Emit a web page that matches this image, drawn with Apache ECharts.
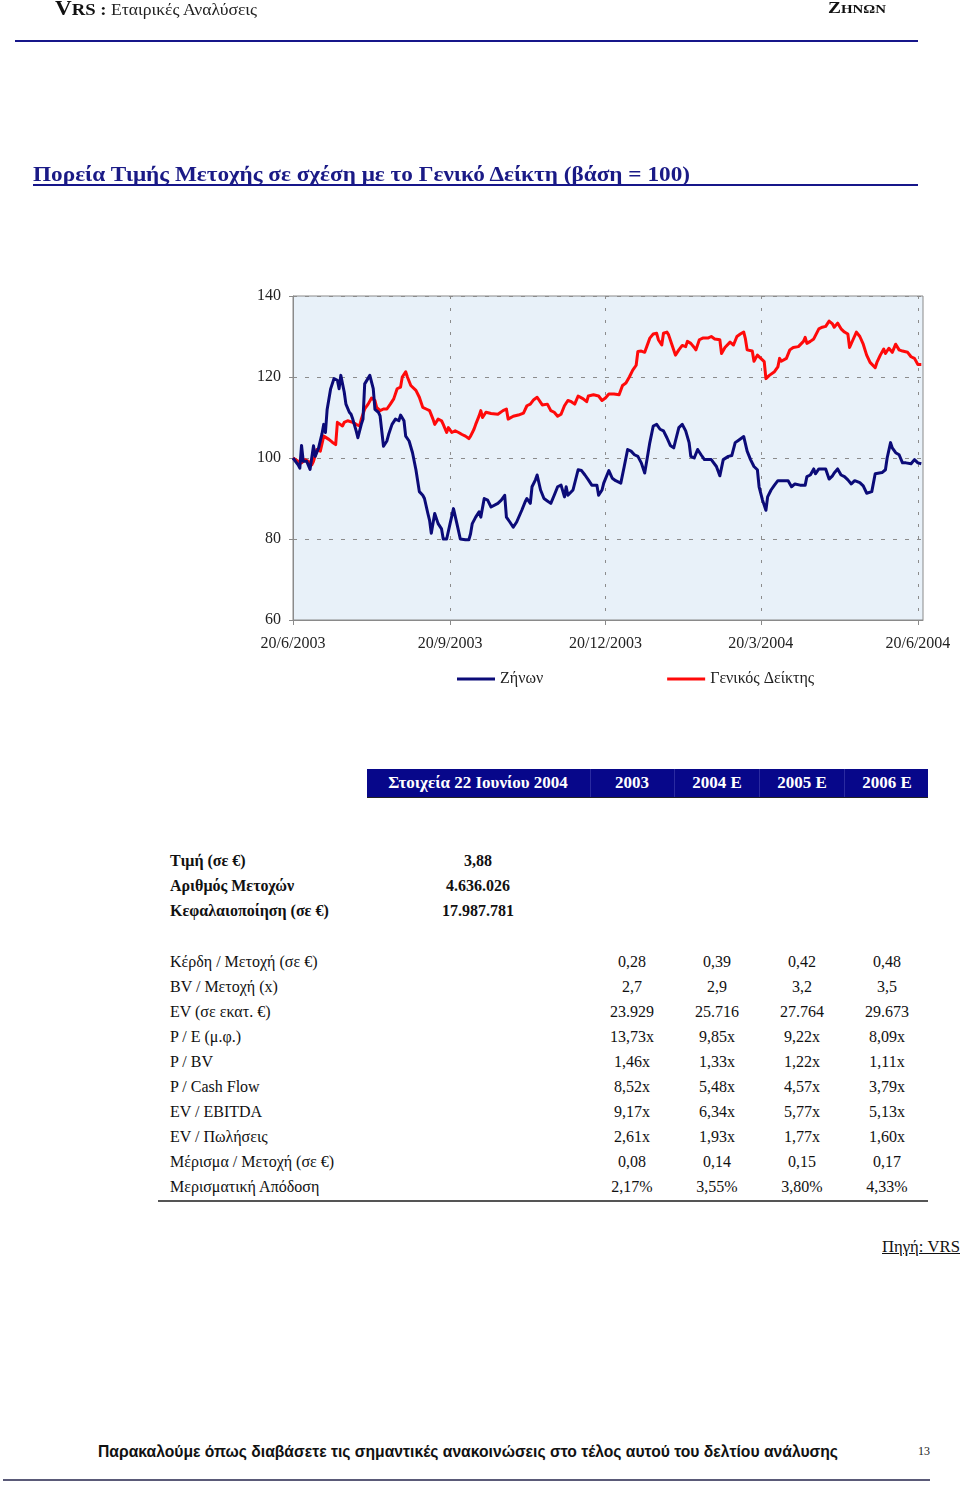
<!DOCTYPE html>
<html><head><meta charset="utf-8">
<script src="https://cdn.jsdelivr.net/npm/echarts@6/dist/echarts.min.js"></script>
<style>
html,body{margin:0;padding:0}
body{width:960px;height:1489px;position:relative;background:#fff;font-family:'Liberation Serif','Times New Roman',serif;color:#000;overflow:hidden}
.a{position:absolute;white-space:nowrap}
#chart{position:absolute;left:0;top:0;width:960px;height:720px}
.fit{transform-origin:0 50%;display:inline-block}
</style></head><body>
<div id="chart"></div>

<div class="a" style="left:55px;top:-5px;height:26px;line-height:26px;">
  <span class="fit" id="hdrL"><b style="font-size:21px;color:#111">V</b><b style="font-size:17px;color:#111">RS :</b> <span style="font-size:16px;color:#222">Εταιρικές Αναλύσεις</span></span>
</div>
<div class="a" style="left:828px;top:-3px;height:22px;line-height:22px;font-weight:bold;color:#111">
  <span class="fit" id="hdrR"><span style="font-size:17px">Ζ</span><span style="font-size:13px">ΗΝΩΝ</span></span>
</div>
<div class="a" style="left:15px;top:40px;width:903px;height:0;border-top:2px solid #16168a"></div>

<div class="a" style="left:33px;top:162px;width:885px;height:22px;border-bottom:2px solid #16168a;">
  <span class="fit" id="title" style="font-size:22px;font-weight:bold;color:#1a1a86;line-height:24px">Πορεία Τιμής Μετοχής σε σχέση με το Γενικό Δείκτη (βάση = 100)</span>
</div>

<div id="tbl"></div>

<div class="a" style="left:882px;top:1237px;font-size:16px;line-height:20px;color:#111"><span class="fit" id="src" style="text-decoration:underline">Πηγή: VRS</span></div>

<div class="a" style="left:98px;top:1441px;height:22px;line-height:22px;font-family:'Liberation Sans',Arial,sans-serif;font-weight:bold;font-size:17px;color:#111">
  <span class="fit" id="foot">Παρακαλούμε όπως διαβάσετε τις σημαντικές ανακοινώσεις στο τέλος αυτού του δελτίου ανάλυσης</span>
</div>
<div class="a" style="left:918px;top:1444px;font-size:12px;line-height:14px;color:#222">13</div>
<div class="a" style="left:3px;top:1479px;width:927px;height:0;border-top:2px solid #5a5a78"></div>

<script>
// ---------------- DATA ----------------
// x values: days since 20/6/2003
const xTickDays = [0, 92, 183, 274, 366];
const xTickLabels = ['20/6/2003', '20/9/2003', '20/12/2003', '20/3/2004', '20/6/2004'];
const yTicks = [60, 80, 100, 120, 140];

const seriesNames = ['Ζήνων', 'Γενικός Δείκτης'];

const zinonDays = [0,3,4,5,6,8,10,11,12,13,15,17,18,19,20,22,24,26,27,28,30,31,33,34,35,37,38,40,41,42,45,47,48,50,51,53,55,56,58,60,62,63,65,66,68,70,72,74,76,77,79,80,81,83,85,87,88,90,92,94,96,98,101,103,104,105,107,109,110,112,114,116,120,122,124,125,127,129,131,132,134,136,137,139,140,142,143,145,147,149,151,153,155,157,159,160,161,164,167,169,171,173,175,178,179,181,182,185,187,189,192,194,196,198,200,202,204,206,208,209,211,213,215,217,219,221,223,224,226,228,230,232,233,235,237,239,241,243,245,248,250,252,255,257,259,261,264,266,268,270,272,273,275,277,278,280,282,284,287,290,292,294,297,300,301,303,305,306,308,310,312,314,316,317,319,321,323,325,327,329,332,334,336,339,341,342,345,347,348,350,351,353,355,357,359,362,364,366,368];
const zinonValues = [100,98.3,97.5,103.1,99.2,99.2,97.2,97.2,103,100.4,102.5,106,108.3,106.3,112,117,119.6,119.2,117.1,120.4,116.3,113.3,111.3,110.8,109.6,106.7,105,108.3,109.6,118.3,120.4,117.1,112,111.3,110.4,102.9,104.2,105.8,108.3,109.6,109.2,110.6,109.2,105.4,104.2,101.3,97.1,91.7,90.8,90,86.3,84.6,81.4,86.3,83.8,82.5,80,80,83.8,87.5,83.8,80,79.8,79.8,81.3,83.8,85.4,86.7,85.4,90,89.6,87.9,88.8,89.6,90.8,85.4,84.2,82.9,84.2,83.8,87.1,89.2,90,88.8,92.9,94.6,95.8,92.1,90,89.4,88.8,90.8,92.9,93.3,90.4,92.9,90.8,92.1,97.1,96.9,95.8,94.6,93.3,93.3,90.8,92.1,93.8,96.9,95,94.4,93.8,97.9,102.1,101.7,100.8,100.4,98.8,96.3,101.3,103.8,107.9,108.3,107.1,106.7,105,103.1,102.5,104.2,107.5,108.3,106.7,103.8,100.4,100,102.1,100.8,99.6,99.6,99.6,97.9,95.6,99.6,100.4,100.6,103.8,104.4,105.3,101.7,99.6,97.9,97.1,92.9,89.6,87.1,90.4,92.1,93.3,94.4,94.4,94.4,92.9,93.6,93.3,93.3,95.4,95.8,97.3,96.1,97.3,97.3,97.3,94.8,95.6,96.3,97.3,95.8,95.4,94.6,93.6,94.4,93.9,93.1,91.3,91.7,96.1,96.3,96.4,97.1,100,103.8,102.5,101.3,100.8,98.8,98.8,98.6,99.6,98.8,98.6];

const genikosDays = [0,3,5,7,9,11,12,14,16,17,18,21,23,25,26,27,29,30,32,35,37,39,40,42,44,46,48,49,51,53,55,57,59,61,63,64,66,67,69,70,72,74,76,78,80,82,83,85,87,88,90,91,93,95,97,99,101,103,104,106,107,109,110,111,113,116,120,123,125,126,129,132,135,137,139,141,143,146,149,151,153,155,157,159,161,163,165,167,170,172,173,176,179,181,183,185,188,191,193,195,197,199,201,202,204,206,209,211,213,214,216,217,219,220,222,223,224,226,228,230,231,233,235,236,238,240,243,245,247,250,251,253,256,258,260,262,264,265,266,269,270,272,274,276,277,279,282,284,285,286,289,291,293,296,299,300,301,303,305,308,310,312,314,316,317,319,321,323,325,326,328,330,332,334,335,336,338,341,342,344,346,347,349,351,353,355,357,360,362,364,366,368];
const genikosValues = [100,99.2,98.8,99.6,99.2,98.3,99.2,102.1,101.7,102.1,105.4,104.6,103.9,103.3,108.8,109.2,107.9,108.8,109.2,108.8,108.3,107.9,109.6,112.1,113.3,114.8,114.2,112.5,111.7,112.1,112.1,113.3,114.6,117.1,117.5,120,121.3,120,117.9,118.3,116.7,115,112.5,112.1,111.7,109.6,108.3,109.6,109.2,108.3,106.3,107.5,106.3,106.7,106.3,105.8,105.4,104.8,105.4,107.1,108.3,110.4,111.7,110,111.3,111,110.8,111.7,112.1,109.6,110.3,110.6,111.1,112.9,113.3,114.4,115,113.1,113.3,111.7,111.3,110.3,110.8,112.9,114.2,113.9,113.3,115.3,114.6,113.9,115.3,115.6,115.3,114.2,114.8,115.8,115.8,115.6,117.9,118.5,120,121.7,122.9,126.3,126.4,126.1,129.6,130.6,130.8,129.2,127.9,130.8,131.1,130.4,127.9,127.8,125.4,126.7,127.8,127.5,128.8,128.3,127.3,126.7,129.2,129.6,129.6,130,129.4,129.2,125.8,127.3,128.6,127.9,130,130.6,131.1,129.4,126.7,126.4,123.9,125.4,124.6,123.8,119.6,120.4,121.3,122.5,124.6,123.9,124.6,126.7,127.3,127.5,128.8,129.8,128.3,128.8,129.4,131.9,132.3,132.5,133.8,133.1,132.3,133.3,131.9,131.1,130.6,127.3,129.2,131.1,130,128.1,127.8,125.4,123.6,122.3,123.6,125.4,126.9,125.8,127.1,126.1,128.1,126.7,126.4,126.1,125,124.6,123.1,123.1];

// Table data
const tableHeader = ['Στοιχεία 22 Ιουνίου 2004', '2003', '2004 E', '2005 E', '2006 E'];
const basicLabels = ['Τιμή (σε €)', 'Αριθμός Μετοχών', 'Κεφαλαιοποίηση (σε €)'];
const basicValues = ['3,88', '4.636.026', '17.987.781'];
const ratioLabels = ['Κέρδη / Μετοχή (σε €)', 'BV / Μετοχή (x)', 'EV (σε εκατ. €)', 'P / E (μ.φ.)', 'P / BV', 'P / Cash Flow', 'EV / EBITDA', 'EV / Πωλήσεις', 'Μέρισμα / Μετοχή (σε €)', 'Μερισματική Απόδοση'];
const values2003  = ['0,28', '2,7', '23.929', '13,73x', '1,46x', '8,52x', '9,17x', '2,61x', '0,08', '2,17%'];
const values2004E = ['0,39', '2,9', '25.716', '9,85x', '1,33x', '5,48x', '6,34x', '1,93x', '0,14', '3,55%'];
const values2005E = ['0,42', '3,2', '27.764', '9,22x', '1,22x', '4,57x', '5,77x', '1,77x', '0,15', '3,80%'];
const values2006E = ['0,48', '3,5', '29.673', '8,09x', '1,11x', '3,79x', '5,13x', '1,60x', '0,17', '4,33%'];

// ---------------- CHART ----------------
const FONT = "'Liberation Serif','Times New Roman',serif";
const chart = echarts.init(document.getElementById('chart'), null, {renderer: 'canvas'});
chart.setOption({
  animation: false,
  textStyle: {fontFamily: FONT},
  grid: {left: 293, top: 296, width: 630, height: 324, show: true, backgroundColor: '#e8f1f9', borderColor: '#8a8a8a', borderWidth: 1, containLabel: false},
  legend: {
    left: 457, top: 670, padding: 0, itemGap: 124, itemWidth: 38, itemHeight: 3, icon: 'rect',
    textStyle: {fontFamily: FONT, fontSize: 16, color: '#222', lineHeight: 18},
    data: seriesNames
  },
  xAxis: {
    type: 'value', min: 0, max: 369,
    axisLine: {show: true, lineStyle: {color: '#8a8a8a', width: 1}},
    axisTick: {show: true, customValues: xTickDays, length: 5, lineStyle: {color: '#8a8a8a'}},
    axisLabel: {customValues: xTickDays, margin: 16, fontSize: 16, color: '#222', fontFamily: FONT,
      formatter: v => xTickLabels[xTickDays.indexOf(Math.round(v))] || ''},
    splitLine: {show: true, lineStyle: {color: '#8c8c8c', type: [3, 9], width: 1}}
  },
  yAxis: {
    type: 'value', min: 60, max: 140, interval: 20,
    axisLine: {show: true, lineStyle: {color: '#8a8a8a', width: 1}},
    axisTick: {show: true, length: 4, lineStyle: {color: '#8a8a8a'}},
    axisLabel: {margin: 12, fontSize: 16, color: '#222', fontFamily: FONT},
    splitLine: {show: true, lineStyle: {color: '#8c8c8c', type: [4, 8], width: 1}}
  },
  series: [
    {name: seriesNames[0], type: 'line', showSymbol: false, symbol: 'none', z: 3,
      color: '#0b0b78', lineStyle: {width: 3, color: '#0b0b78', join: 'round'},
      data: zinonDays.map((d, i) => [d, zinonValues[i]])},
    {name: seriesNames[1], type: 'line', showSymbol: false, symbol: 'none', z: 2,
      color: '#ff0a0a', lineStyle: {width: 3, color: '#ff0a0a', join: 'round'},
      data: genikosDays.map((d, i) => [d, genikosValues[i]])}
  ]
});

// ---------------- TABLE ----------------
const tbl = document.getElementById('tbl');
function addText(txt, x, yc, opts) {
  const d = document.createElement('div');
  d.className = 'a';
  d.textContent = txt;
  d.style.top = (yc - 10) + 'px';
  d.style.height = '20px';
  d.style.lineHeight = '20px';
  d.style.fontSize = (opts.size || 16) + 'px';
  if (opts.bold) d.style.fontWeight = 'bold';
  d.style.color = opts.color || '#111';
  if (opts.center) { d.style.left = (x - 100) + 'px'; d.style.width = '200px'; d.style.textAlign = 'center'; }
  else d.style.left = x + 'px';
  tbl.appendChild(d);
}
// header band
const band = document.createElement('div');
band.className = 'a';
band.style.cssText = 'left:367px;top:769px;width:561px;height:28px;background:#07078a;box-shadow:0 1px 0 #222;';
tbl.appendChild(band);
[590, 674, 759, 844].forEach(x => {
  const s = document.createElement('div'); s.className = 'a';
  s.style.cssText = 'left:' + x + 'px;top:769px;width:1px;height:28px;background:#2a2aa0;';
  tbl.appendChild(s);
});
const hdrX = [478, 632, 717, 802, 887];
tableHeader.forEach((t, i) => addText(t, hdrX[i], 783, {bold: true, color: '#fff', center: true, size: 17}));
basicLabels.forEach((t, i) => addText(t, 170, 861 + 25 * i, {bold: true, size: 16}));
basicValues.forEach((t, i) => addText(t, 478, 861 + 25 * i, {bold: true, center: true, size: 16}));
const cols = [values2003, values2004E, values2005E, values2006E];
ratioLabels.forEach((t, i) => {
  addText(t, 170, 962 + 25 * i, {size: 16});
  cols.forEach((c, j) => addText(c[i], hdrX[j + 1], 962 + 25 * i, {center: true, size: 16}));
});
const bl = document.createElement('div'); bl.className = 'a';
bl.style.cssText = 'left:158px;top:1200px;width:770px;height:0;border-top:2px solid #555;';
tbl.appendChild(bl);

// fit text widths to the page layout
function fit(id, w) {
  const el = document.getElementById(id);
  const cw = el.getBoundingClientRect().width;
  if (cw > 0) el.style.transform = 'scaleX(' + (w / cw) + ')';
}
fit('hdrL', 202);
fit('hdrR', 58);
fit('title', 657);
fit('foot', 740);
fit('src', 78);
</script>
</body></html>
